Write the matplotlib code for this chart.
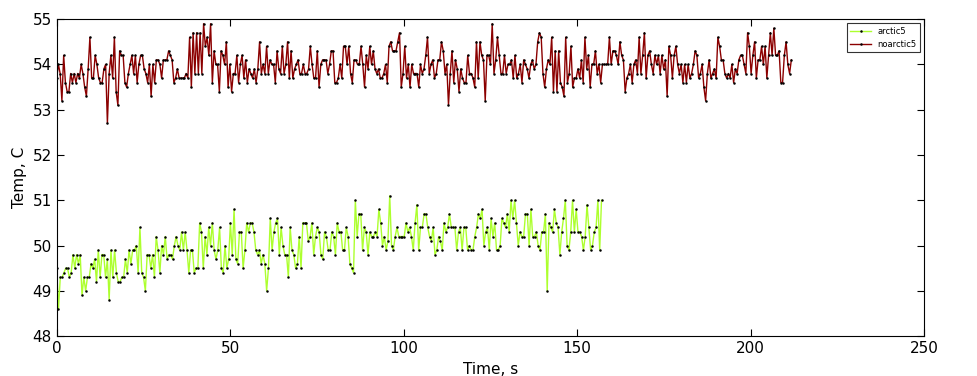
import matplotlib
matplotlib.use('Agg')
import matplotlib.pyplot as plt
import numpy as np

# arctic5 readings (deg C) in four stretches
arctic_a = [49.5, 48.6, 49.3, 49.3, 49.4, 49.5, 49.5, 49.3, 49.4, 49.8, 49.5, 49.8,
            49.6, 49.8, 48.9, 49.3, 49.0, 49.3, 49.3, 49.6, 49.5, 49.7, 49.2, 49.9,
            49.3, 49.8, 49.8, 49.3, 49.7, 48.8, 49.9, 49.3, 49.9, 49.4, 49.2, 49.2,
            49.3, 49.3, 49.7, 49.4, 49.9, 49.6, 49.9, 49.9, 50.0, 49.4, 50.4, 49.4,
            49.3, 49.0, 49.8, 49.8, 49.5, 49.8, 49.3, 50.2, 49.9, 49.4, 50.0, 49.8,
            50.2, 49.7, 49.8, 49.8, 49.7, 50.0, 50.2, 50.0, 49.9, 50.3]
arctic_b = [49.9, 50.3, 49.9, 49.4, 49.9, 49.9, 49.4, 49.5, 49.5, 50.5, 50.3, 49.5,
            50.2, 49.8, 50.4, 50.0, 50.5, 49.9, 49.7, 49.9, 50.4, 49.5, 49.4, 50.0,
            49.5, 49.7, 50.5, 49.8, 50.8, 49.7, 49.6, 50.3, 50.3, 49.5, 49.9, 50.5,
            50.3, 50.5, 50.5, 50.3, 49.9, 49.8, 49.9, 49.6, 49.8, 49.6, 49.0, 49.5,
            50.6, 49.9, 50.3, 50.5, 50.6, 49.8, 50.4, 50.0, 49.8, 49.8, 49.3, 50.4,
            49.9, 49.8, 49.5, 49.6, 50.2, 49.5, 50.5, 50.5, 50.5, 50.1, 50.2, 50.5]
arctic_c = [49.8, 50.2, 50.4, 50.3, 49.8, 49.7, 50.3, 50.2, 49.9, 49.9, 50.3, 50.2,
            49.8, 50.5, 50.3, 50.3, 49.9, 49.9, 50.4, 50.2, 49.6, 49.5, 49.4, 51.0,
            50.2, 50.7, 50.7, 49.9, 50.4, 50.3, 49.8, 50.3, 50.2, 50.2, 50.3, 50.2,
            50.8, 50.5, 50.0, 50.2, 49.9, 50.1, 51.1, 50.0, 49.9, 50.2, 50.4, 50.2,
            50.2, 50.2, 50.2, 50.5, 50.3, 50.4, 50.2, 49.9, 50.5, 50.9, 49.9, 50.4,
            50.4, 50.7, 50.7, 50.4, 50.2, 50.1, 50.4, 49.8, 49.9, 50.2, 50.1, 49.9,
            50.5, 50.3, 50.4, 50.7, 50.4, 50.4, 50.4, 49.9, 50.3, 50.4, 49.9]
arctic_d = [50.4, 50.4, 49.9, 50.0, 49.9, 49.9, 50.2, 50.4, 50.7, 50.6, 50.8, 50.0,
            50.3, 50.4, 49.9, 50.6, 50.2, 50.5, 49.9, 49.9, 50.0, 50.6, 50.5, 50.4,
            50.7, 50.3, 51.0, 50.6, 51.0, 50.5, 50.0, 50.3, 50.2, 50.2, 50.7, 50.7,
            50.0, 50.8, 50.2, 50.2, 50.3, 50.0, 49.9, 50.3, 50.3, 50.7, 49.0, 50.5,
            50.4, 50.3, 50.8, 50.5, 50.4, 49.8, 50.3, 50.6, 51.0, 50.0, 49.9, 50.3,
            51.0, 50.3, 50.8, 50.3, 50.3, 50.2, 49.9, 50.2, 50.9, 50.4, 49.9, 50.0,
            50.3, 50.4, 51.0, 49.9, 51.0]

# noarctic5 readings (deg C)
noarctic_a = [53.7, 54.0, 53.8, 53.2, 54.2, 53.6, 53.4, 53.4, 53.8, 53.6, 53.8, 53.6,
              53.8, 53.7, 54.0, 53.8, 53.5, 53.3, 53.9, 54.6, 53.7, 53.7, 54.2, 54.0,
              53.7, 53.6, 53.6, 53.9, 54.0, 52.7, 53.8, 54.2, 53.7, 54.6, 53.4, 53.1,
              54.3, 54.2, 54.2, 53.6, 53.5, 53.8, 54.0, 54.2, 53.8, 54.2, 53.6, 54.0,
              54.2, 54.2, 53.9, 53.8, 53.6, 54.0, 53.3, 54.0, 53.6, 54.1, 54.1, 54.0,
              53.7, 54.1, 54.1, 54.1, 54.3, 54.2, 54.1, 53.6, 53.7, 53.9, 53.7, 53.7,
              53.7, 53.7, 53.8, 53.7, 54.6, 53.5, 54.7, 53.8, 54.7, 53.8, 54.7, 53.8,
              54.9, 54.4, 54.6, 54.2, 54.9, 53.6, 54.3, 54.0, 54.0, 53.4, 54.3, 54.2,
              54.0, 54.5, 53.5, 54.0, 53.4, 53.8, 53.8, 54.2, 53.6, 54.0, 54.2, 53.7,
              54.1]
noarctic_b = [53.6, 53.9, 53.8, 53.7, 53.9, 53.6, 53.9, 54.5, 53.8, 54.0, 53.8, 54.4,
              53.8, 54.1, 54.0, 54.0, 53.6, 54.3, 53.9, 53.8, 54.4, 53.8, 54.0, 54.5,
              53.7, 54.3, 53.7, 53.9, 54.0, 54.1, 53.8, 53.8, 54.0, 53.8, 53.8, 53.9,
              54.4, 54.0, 53.7, 53.7, 54.3, 53.5, 54.0, 54.1, 54.1, 54.1, 53.8, 54.0,
              54.3, 54.3, 53.6, 53.6, 53.7, 54.0, 53.7, 54.4, 54.4, 54.0, 54.4, 53.8,
              53.6, 54.1, 54.1, 54.0, 54.0, 54.4, 54.0, 53.5, 54.2, 53.9, 54.4, 54.0,
              54.3, 53.9, 53.8, 53.9, 53.7, 53.7, 53.8, 54.0, 53.6, 54.4, 54.5, 54.3,
              54.3, 54.3, 54.5, 54.7, 53.5, 53.8, 54.4, 53.7, 54.0, 53.5, 54.0, 53.8,
              53.8, 53.8, 53.5, 54.0, 53.8, 53.9, 54.2, 54.6, 53.8, 54.0, 54.1]
noarctic_c = [53.7, 53.8, 54.1, 54.1, 54.5, 54.3, 53.8, 54.0, 53.1, 53.8, 54.3, 53.6,
              54.1, 53.9, 53.4, 53.9, 53.7, 53.6, 53.6, 54.2, 53.8, 53.8, 53.7, 53.5,
              54.5, 53.7, 54.5, 54.2, 54.1, 53.2, 54.2, 54.2, 54.0, 54.9, 53.8, 54.1,
              54.6, 54.2, 53.8, 53.8, 54.2, 53.8, 54.0, 54.0, 54.1, 53.7, 54.2, 53.7,
              53.8, 54.0, 53.6, 54.1, 54.0, 53.9, 53.7, 54.0, 54.1, 53.9, 54.0, 54.5,
              54.7, 54.6, 53.8, 53.5, 53.9, 54.1, 54.0, 54.6, 53.4, 54.3, 53.4, 54.3,
              53.6, 53.5, 53.3, 54.6, 53.6, 53.8, 54.4, 53.5, 53.7, 53.7, 53.9, 53.7,
              54.1, 53.6, 54.6, 53.9, 54.2, 53.5, 54.0, 54.0, 54.3, 53.8, 54.0, 53.6,
              54.0, 54.0, 54.0, 54.0, 54.6, 54.0, 54.3, 54.3]
noarctic_d = [54.2, 54.0, 54.5, 54.2, 54.1, 53.4, 53.7, 53.8, 54.0, 53.6, 54.0, 54.1,
              53.8, 54.6, 53.8, 54.2, 54.7, 53.7, 54.2, 54.3, 54.0, 53.8, 54.2, 54.0,
              54.2, 53.8, 54.2, 53.9, 54.1, 53.3, 54.4, 54.2, 53.7, 54.2, 54.4, 54.0,
              53.8, 54.0, 53.6, 54.0, 53.6, 54.0, 53.7, 53.8, 54.0, 54.3, 54.2, 53.7,
              53.8, 54.0, 53.5, 53.2, 53.8, 54.1, 53.7, 53.8, 53.9, 53.7, 54.6, 54.4,
              54.1, 54.1, 53.8, 53.7, 53.8, 53.7, 54.0, 53.6, 53.9, 53.8, 54.1, 54.2,
              54.2, 54.0, 53.8, 54.7, 54.4, 53.8, 54.2, 54.5, 53.7, 54.1, 54.1, 54.4,
              54.0, 54.4, 53.7, 54.2, 54.7, 54.2, 54.8, 54.2, 54.2, 54.3, 53.6, 53.6,
              54.2, 54.5, 54.0, 53.8, 54.1]

arctic = np.array(arctic_a + arctic_b + arctic_c + arctic_d)
noarctic = np.array(noarctic_a + noarctic_b + noarctic_c + noarctic_d)

# even sampling over the logged span of each run
t_arctic_end = 157.0
t_noarctic_end = 211.7
t_arctic = np.linspace(0, t_arctic_end, len(arctic))
t_noarctic = np.linspace(0, t_noarctic_end, len(noarctic))

plt.rcParams['xtick.direction'] = 'in'
plt.rcParams['ytick.direction'] = 'in'
plt.rcParams['xtick.top'] = True
plt.rcParams['ytick.right'] = True

fig = plt.figure(figsize=(9.77, 3.76), dpi=100)
ax = fig.add_axes([0.058, 0.106, 0.888, 0.843])

ax.plot(t_arctic, arctic, color='#adff2f', lw=1.0, marker='o',
        markersize=1.8, mew=0, markerfacecolor='k', label='arctic5')
ax.plot(t_noarctic, noarctic, color='#8b0000', lw=1.0, marker='o',
        markersize=1.8, mew=0, markerfacecolor='k', label='noarctic5')

ax.set_xlim(0, 250)
ax.set_ylim(48, 55)
ax.set_xticks(np.arange(0, 251, 50))
ax.set_yticks(np.arange(48, 56, 1))
ax.tick_params(labelsize=11, length=5)
ax.set_xlabel('Time, s', fontsize=11)
ax.set_ylabel('Temp, C', fontsize=11)

leg = ax.legend(loc='upper right', fontsize=6, fancybox=False,
                handlelength=2.5, borderpad=0.4)
leg.get_frame().set_edgecolor('black')
leg.get_frame().set_linewidth(0.8)

fig.savefig('out.png', dpi=100)
